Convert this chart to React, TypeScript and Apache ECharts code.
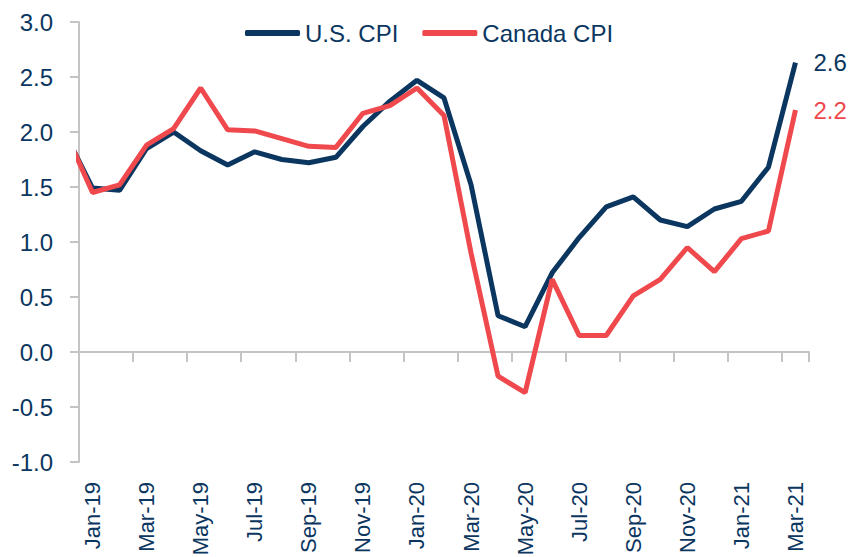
import React, { useEffect, useRef } from "react";
import * as echarts from "echarts";

const categories = [
  "Jan-19", "Feb-19", "Mar-19", "Apr-19", "May-19", "Jun-19", "Jul-19", "Aug-19", "Sep-19",
  "Oct-19", "Nov-19", "Dec-19", "Jan-20", "Feb-20", "Mar-20", "Apr-20", "May-20", "Jun-20",
  "Jul-20", "Aug-20", "Sep-20", "Oct-20", "Nov-20", "Dec-20", "Jan-21", "Feb-21", "Mar-21",
];

// Dec-18 value (partly visible, clipped at the left edge of the plot)
const usPrev = 1.98;
const caPrev = 2.0;

const usCpi = [
  1.49, 1.47, 1.85, 2.0, 1.83, 1.7, 1.82, 1.75, 1.72, 1.77, 2.05, 2.28, 2.47, 2.31, 1.52,
  0.33, 0.23, 0.72, 1.04, 1.32, 1.41, 1.2, 1.14, 1.3, 1.37, 1.68, 2.63,
];
const caCpi = [
  1.45, 1.52, 1.88, 2.03, 2.4, 2.02, 2.01, 1.94, 1.87, 1.86, 2.17, 2.24, 2.4, 2.15, 0.9,
  -0.22, -0.37, 0.66, 0.15, 0.15, 0.51, 0.66, 0.95, 0.73, 1.03, 1.1, 2.2,
];

const yMin = -1;
const yMax = 3;
const yStep = 0.5;

const NAVY = "#0b3660";
const RED = "#ef484d";
const GRAY = "#c4c4c4";
const FONT = "'Liberation Sans', Arial, sans-serif";
const FS = 24;

function toPoints(prev: number, vals: number[]) {
  return [[-1, prev], ...vals.map((v, i) => [i, v])];
}

export default function App() {
  const ref = useRef<HTMLDivElement>(null);
  useEffect(() => {
    if (!ref.current) return;
    const chart = echarts.init(ref.current, undefined, { renderer: "svg" });
    const grid = { left: 79, right: 43, top: 22, bottom: 95, outerBoundsMode: "none", containLabel: false };
    chart.setOption({
      animation: false,
      backgroundColor: "#ffffff",
      textStyle: { fontFamily: FONT },
      legend: {
        top: 16,
        left: 240,
        itemWidth: 55,
        itemHeight: 6,
        itemGap: 24,
        icon: "roundRect",
        textStyle: { fontSize: FS, color: NAVY, fontFamily: FONT },
        data: ["U.S. CPI", "Canada CPI"],
      },
      grid,
      xAxis: [
        {
          type: "category",
          data: categories,
          boundaryGap: true,
          axisLine: { show: true, onZero: true, lineStyle: { color: GRAY, width: 2 } },
          axisTick: { show: true, interval: 1, length: 10, lineStyle: { color: GRAY, width: 2 } },
          axisLabel: { show: false },
          splitLine: { show: false },
        },
        {
          type: "category",
          data: categories,
          boundaryGap: true,
          position: "bottom",
          axisLine: { show: false, onZero: false },
          axisTick: { show: false },
          axisLabel: {
            show: true,
            interval: 1,
            rotate: 90,
            margin: 20,
            fontSize: 22,
            color: NAVY,
            fontFamily: FONT,
          },
          splitLine: { show: false },
        },
        {
          type: "value",
          min: -0.5,
          max: categories.length - 0.5,
          show: false,
          axisLine: { onZero: false },
          splitLine: { show: false },
        },
      ],
      yAxis: {
        type: "value",
        min: yMin,
        max: yMax,
        interval: yStep,
        axisLine: { show: true, onZero: false, lineStyle: { color: GRAY, width: 2 } },
        axisTick: { show: true, length: 9, lineStyle: { color: GRAY, width: 2 } },
        splitLine: { show: false },
        axisLabel: {
          margin: 26,
          fontSize: FS,
          color: NAVY,
          fontFamily: FONT,
          formatter: (v: number) => v.toFixed(1),
        },
      },
      series: [
        {
          name: "U.S. CPI",
          type: "line",
          xAxisIndex: 2,
          data: toPoints(usPrev, usCpi),
          clip: true,
          showSymbol: false,
          symbol: "none",
          color: NAVY,
          lineStyle: { color: NAVY, width: 5 },
          endLabel: {
            show: true,
            distance: 18,
            fontSize: FS,
            color: NAVY,
            fontFamily: FONT,
            formatter: (p: any) => Number(p.value[1]).toFixed(1),
          },
        },
        {
          name: "Canada CPI",
          type: "line",
          xAxisIndex: 2,
          data: toPoints(caPrev, caCpi),
          clip: true,
          showSymbol: false,
          symbol: "none",
          color: RED,
          lineStyle: { color: RED, width: 5 },
          endLabel: {
            show: true,
            distance: 18,
            fontSize: FS,
            color: RED,
            fontFamily: FONT,
            formatter: (p: any) => Number(p.value[1]).toFixed(1),
          },
        },
      ],
    });
    return () => chart.dispose();
  }, []);
  return <div ref={ref} style={{ width: 852, height: 557, position: "absolute", left: 0, top: 0 }} />;
}
